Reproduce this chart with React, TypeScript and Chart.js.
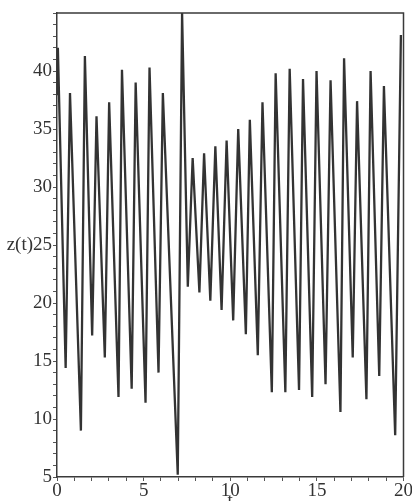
import React, { useEffect, useRef } from "react";
import { Chart, registerables } from "chart.js";

Chart.register(...registerables);

// time (t) of each turning point
const timeValues = [
  0, 0.05, 0.5, 0.75, 1.38, 1.61, 2.03, 2.28, 2.76, 3.01, 3.55, 3.75, 4.31, 4.54,
  5.11, 5.34, 5.86, 6.11, 6.97, 7.22, 7.55, 7.83, 8.22, 8.49, 8.85, 9.14, 9.5,
  9.79, 10.17, 10.46, 10.9, 11.13, 11.59, 11.86, 12.4, 12.62, 13.18, 13.43,
  13.97, 14.2, 14.73, 14.98, 15.5, 15.79, 16.36, 16.57, 17.07, 17.32, 17.86,
  18.1, 18.6, 18.87, 19.52, 19.85,
];

// z(t) at those times
const zValues = [
  38, 42, 14.4, 38.1, 9.0, 41.3, 17.2, 36.1, 15.3, 37.3, 11.9, 40.1, 12.6, 39.0,
  11.4, 40.3, 14.0, 38.1, 5.2, 45, 21.4, 32.5, 20.9, 32.9, 20.2, 33.5, 19.4,
  34.0, 18.5, 35.0, 17.3, 35.8, 15.5, 37.3, 12.3, 39.8, 12.3, 40.2, 12.5, 39.3,
  11.9, 40.0, 13.0, 39.2, 10.6, 41.1, 15.3, 37.4, 11.7, 40.0, 13.7, 38.7, 8.6,
  43.1,
];

const xTickLabels = ["0", "5", "10", "15", "20"];
const yTickLabels = ["5", "10", "15", "20", "25", "30", "35", "40"];
const yAxisTitle = "z(t)";
const xAxisTitle = "t";

const INK = "#333333";
const FONT_FAMILY = "'Liberation Serif', 'Times New Roman', serif";
const FONT_SIZE = 19;

const framePlugin = {
  id: "frame",
  afterDraw(chart: any) {
    const { ctx, chartArea, scales } = chart;
    ctx.save();
    ctx.strokeStyle = "#3a3a3a";
    ctx.lineWidth = 1.5;
    ctx.beginPath();
    ctx.moveTo(chartArea.left, chartArea.top);
    ctx.lineTo(chartArea.right, chartArea.top);
    ctx.lineTo(chartArea.right, chartArea.bottom);
    ctx.stroke();
    // x-axis title, mostly below the visible area as in the reference
    ctx.fillStyle = INK;
    ctx.font = `${FONT_SIZE}px ${FONT_FAMILY}`;
    ctx.textAlign = "center";
    ctx.textBaseline = "top";
    ctx.fillText(xAxisTitle, scales.x.getPixelForValue(10), 492);
    ctx.restore();
  },
};

export default function App() {
  const canvasRef = useRef<HTMLCanvasElement | null>(null);

  useEffect(() => {
    const canvas = canvasRef.current;
    if (!canvas) return;
    const points = timeValues.map((t, i) => ({ x: t, y: zValues[i] }));
    const chart = new Chart(canvas, {
      type: "line",
      data: {
        datasets: [
          {
            data: points,
            borderColor: "#333333",
            borderWidth: 2.3,
            pointRadius: 0,
            tension: 0,
            fill: false,
          },
        ],
      },
      options: {
        responsive: false,
        animation: false,
        devicePixelRatio: 1,
        layout: { padding: { top: 13, right: 8, left: 0, bottom: 0 } },
        plugins: {
          legend: { display: false },
          tooltip: { enabled: false },
        },
        scales: {
          x: {
            type: "linear",
            min: 0,
            max: 20,
            afterFit: (scale: any) => {
              scale.height = 24;
            },
            border: { display: true, color: "#3a3a3a", width: 1.5 },
            grid: {
              drawOnChartArea: false,
              drawTicks: true,
              tickLength: 4,
              tickColor: "#555",
            },
            ticks: {
              stepSize: 1,
              autoSkip: false,
              maxRotation: 0,
              padding: -1,
              color: INK,
              font: { family: FONT_FAMILY, size: FONT_SIZE },
              callback: (v: any) =>
                xTickLabels.includes(String(v)) ? String(v) : "",
            },
          },
          y: {
            type: "linear",
            min: 5,
            max: 45,
            afterFit: (scale: any) => {
              scale.width = 57;
            },
            border: { display: true, color: "#3a3a3a", width: 1.5 },
            grid: {
              drawOnChartArea: false,
              drawTicks: true,
              tickLength: 4,
              tickColor: "#555",
            },
            ticks: {
              stepSize: 1,
              autoSkip: false,
              padding: 1,
              color: INK,
              font: { family: FONT_FAMILY, size: FONT_SIZE },
              callback: (v: any) => {
                const s = String(v);
                if (!yTickLabels.includes(s)) return "";
                return s === "25" ? yAxisTitle + s : s;
              },
            },
          },
        },
      },
      plugins: [framePlugin],
    });
    return () => chart.destroy();
  }, []);

  return (
    <div style={{ position: "fixed", left: 0, top: 0, width: 412, height: 501, background: "#fff" }}>
      <canvas ref={canvasRef} width={412} height={501} style={{ display: "block" }} />
    </div>
  );
}
